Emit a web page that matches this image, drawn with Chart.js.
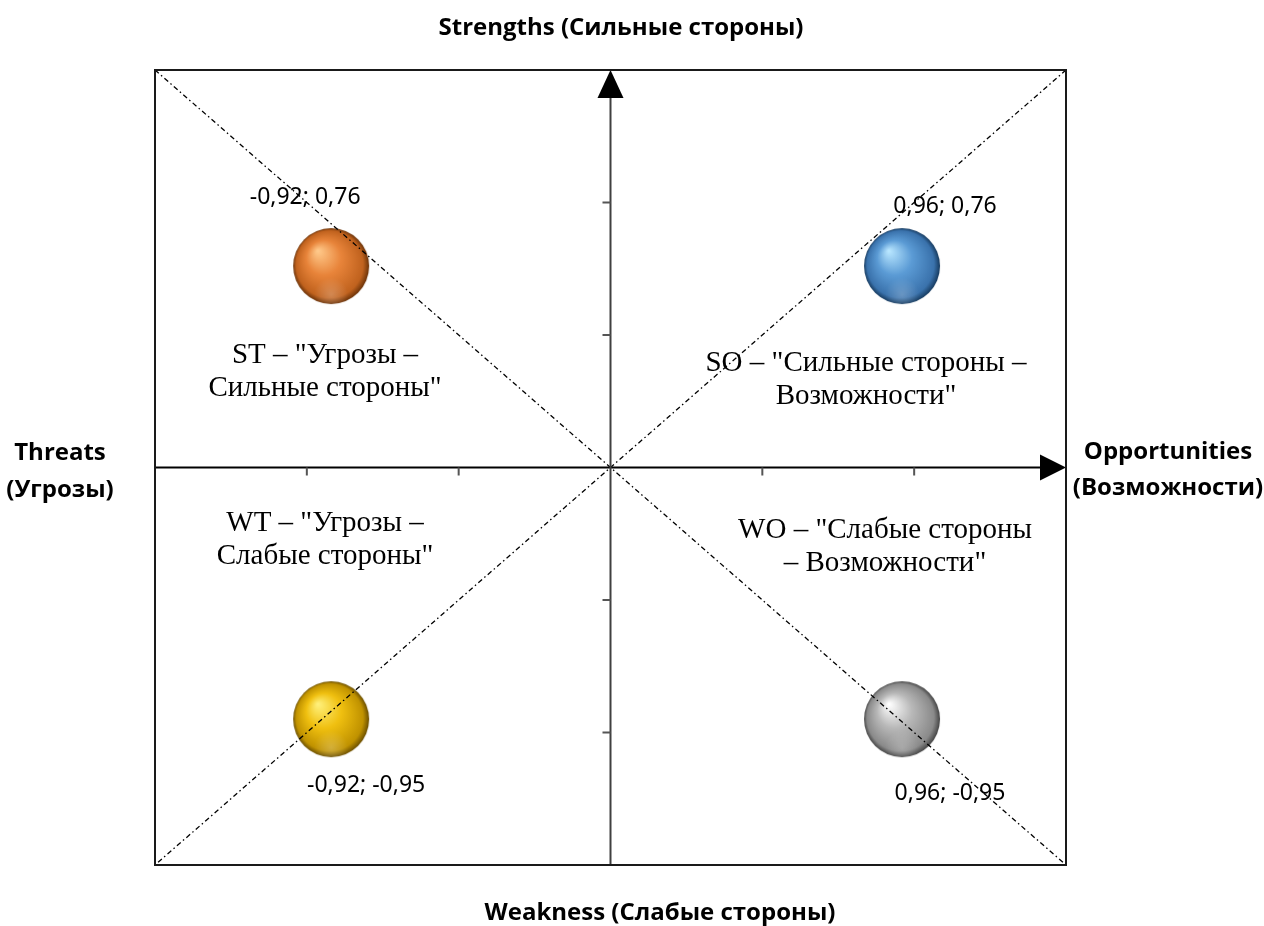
<!DOCTYPE html>
<html>
<head>
<meta charset="utf-8">
<script src="https://cdn.jsdelivr.net/npm/chart.js@4.4.1/dist/chart.umd.min.js"></script>
<style>
  html, body { margin: 0; padding: 0; background: #fff; }
  #wrap { width: 1264px; height: 926px; }
</style>
</head>
<body>
<div id="wrap"><canvas id="swot"></canvas></div>
<script>
// data
const quadrants = ["ST", "SO", "WT", "WO"];
const xValues = [-0.92, 0.96, -0.92, 0.96];
const yValues = [0.76, 0.76, -0.95, -0.95];
const tickValues = [-1.5, -1, -0.5, 0, 0.5, 1, 1.5];
const quadrantTexts = {
  ST: ['ST – "Угрозы –', 'Сильные стороны"'],
  SO: ['SO – "Сильные стороны –', 'Возможности"'],
  WT: ['WT – "Угрозы –', 'Слабые стороны"'],
  WO: ['WO – "Слабые стороны', '– Возможности"']
};
const axisTitles = {
  top: ["Strengths (Сильные стороны)"],
  bottom: ["Weakness (Слабые стороны)"],
  left: ["Threats", "(Угрозы)"],
  right: ["Opportunities", "(Возможности)"]
};

const fmt = v => v.toFixed(2).replace(".", ",");
const pointLabels = xValues.map((x, i) => fmt(x) + "; " + fmt(yValues[i]));

// sphere look per quadrant
const sphereColors = {
  ST: ["#ffc98a", "#e8843a", "#c0621e", "#6a3208"],
  SO: ["#b8e6ff", "#5b9bd5", "#3a72ac", "#163a5e"],
  WT: ["#fff07a", "#f0c010", "#c09200", "#6a4e00"],
  WO: ["#ffffff", "#b8b8b8", "#8a8a8a", "#444444"]
};
const labelOffsets = {
  ST: [-26, -69], SO: [43, -60], WT: [35, 66], WO: [48, 74]
};
const quadCenters = {
  ST: [325, 355], SO: [866, 363], WT: [325, 523], WO: [885, 530]
};

function makeSphere(cols, r) {
  const c = document.createElement("canvas");
  c.width = c.height = r * 2 + 2;
  const g = c.getContext("2d");
  const cx = r + 1, cy = r + 1;
  const grad = g.createRadialGradient(cx - r * 0.35, cy - r * 0.4, r * 0.02, cx, cy, r);
  grad.addColorStop(0, cols[0]);
  grad.addColorStop(0.45, cols[1]);
  grad.addColorStop(0.88, cols[2]);
  grad.addColorStop(1, cols[3]);
  g.fillStyle = grad;
  g.beginPath();
  g.arc(cx, cy, r, 0, Math.PI * 2);
  g.fill();
  // soft reflection at the bottom
  const ref = g.createRadialGradient(cx, cy + r * 0.75, 0, cx, cy + r * 0.75, r * 0.45);
  ref.addColorStop(0, "rgba(255,255,255,0.22)");
  ref.addColorStop(1, "rgba(255,255,255,0)");
  g.fillStyle = ref;
  g.beginPath();
  g.arc(cx, cy, r, 0, Math.PI * 2);
  g.fill();
  return c;
}

const spheres = quadrants.map(q => makeSphere(sphereColors[q], 38));

const swotPlugin = {
  id: "swot",
  afterDatasetsDraw(chart) {
    const ctx = chart.ctx;
    const xs = chart.scales.x, ys = chart.scales.y;
    const a = chart.chartArea;
    const x0 = xs.getPixelForValue(0), y0 = ys.getPixelForValue(0);
    ctx.save();

    // diagonals
    ctx.strokeStyle = "#000";
    ctx.lineWidth = 1.3;
    ctx.setLineDash([5, 3, 1.5, 3]);
    ctx.beginPath();
    ctx.moveTo(a.left, a.top); ctx.lineTo(a.right, a.bottom);
    ctx.moveTo(a.right, a.top); ctx.lineTo(a.left, a.bottom);
    ctx.stroke();
    ctx.setLineDash([]);

    // axes
    ctx.lineWidth = 2;
    ctx.strokeStyle = "#000";
    ctx.beginPath();
    ctx.moveTo(a.left, y0); ctx.lineTo(a.right - 20, y0);
    ctx.stroke();
    ctx.strokeStyle = "#404040";
    ctx.beginPath();
    ctx.moveTo(x0, a.bottom); ctx.lineTo(x0, a.top + 20);
    ctx.stroke();

    // ticks
    ctx.strokeStyle = "#555";
    ctx.lineWidth = 2;
    tickValues.forEach(v => {
      if (v === 0 || Math.abs(v) === 1.5) return;
      const px = xs.getPixelForValue(v), py = ys.getPixelForValue(v);
      ctx.beginPath();
      ctx.moveTo(px, y0); ctx.lineTo(px, y0 + 8);
      ctx.moveTo(x0 - 8, py); ctx.lineTo(x0, py);
      ctx.stroke();
    });

    // arrows
    ctx.fillStyle = "#000";
    ctx.beginPath();
    ctx.moveTo(x0, a.top); ctx.lineTo(x0 - 13, a.top + 28); ctx.lineTo(x0 + 13, a.top + 28);
    ctx.closePath(); ctx.fill();
    ctx.beginPath();
    ctx.moveTo(a.right, y0); ctx.lineTo(a.right - 26, y0 - 13); ctx.lineTo(a.right - 26, y0 + 13);
    ctx.closePath(); ctx.fill();

    // border
    ctx.strokeStyle = "#1a1a1a";
    ctx.lineWidth = 2;
    ctx.strokeRect(a.left, a.top, a.right - a.left, a.bottom - a.top);

    // point labels
    const meta = chart.getDatasetMeta(0);
    ctx.fillStyle = "#000";
    ctx.font = "23px 'Noto Sans', sans-serif";
    ctx.textAlign = "center";
    ctx.textBaseline = "middle";
    meta.data.forEach((el, i) => {
      const off = labelOffsets[quadrants[i]];
      ctx.fillText(pointLabels[i], el.x + off[0], el.y + off[1]);
    });

    // quadrant texts
    ctx.font = "29px 'Liberation Serif', serif";
    quadrants.forEach(q => {
      const c = quadCenters[q];
      quadrantTexts[q].forEach((line, k) => ctx.fillText(line, c[0], c[1] + k * 33));
    });

    // axis titles
    ctx.font = "bold 24px 'Open Sans', sans-serif";
    ctx.fillText(axisTitles.top[0], 621, 28);
    ctx.fillText(axisTitles.bottom[0], 660, 913);
    axisTitles.left.forEach((t, k) => ctx.fillText(t, 60, 453 + k * 37));
    axisTitles.right.forEach((t, k) => ctx.fillText(t, 1168, 452 + k * 36));
    ctx.restore();
  }
};

new Chart(document.getElementById("swot"), {
  type: "scatter",
  data: {
    datasets: [{
      label: "SWOT",
      data: xValues.map((x, i) => ({ x: x, y: yValues[i] })),
      pointStyle: spheres,
      pointRadius: 38,
      pointHoverRadius: 38
    }]
  },
  options: {
    responsive: true,
    maintainAspectRatio: false,
    animation: false,
    layout: { padding: { left: 155, top: 70, right: 198, bottom: 61 } },
    plugins: { legend: { display: false }, tooltip: { enabled: false } },
    scales: {
      x: { type: "linear", min: -1.5, max: 1.5, display: false },
      y: { type: "linear", min: -1.5, max: 1.5, display: false }
    }
  },
  plugins: [swotPlugin]
});
</script>
</body>
</html>
